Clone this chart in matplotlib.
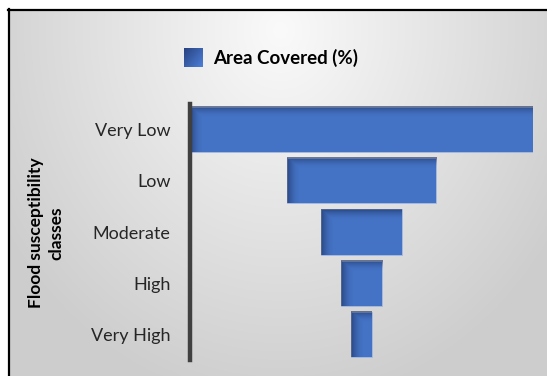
import numpy as np
import matplotlib.pyplot as plt

# Area covered by each flood susceptibility class (%)
classes = ['Very Low', 'Low', 'Moderate', 'High', 'Very High']
area_pct = [54.0, 23.5, 12.7, 6.5, 3.3]

BAR_COLOR = '#4472C4'
SHADOW = np.array([0.10, 0.18, 0.36])
W, H = 547, 376

plt.rcParams['font.family'] = ['Lato', 'DejaVu Sans']

fig = plt.figure(figsize=(W / 100, H / 100), dpi=100)
fig.patch.set_facecolor('white')

# panel background: soft radial grey gradient inside a framed box
bg = fig.add_axes([0, 0, 1, 1], zorder=0)
yy, xx = np.mgrid[0:H, 0:W]
t = np.sqrt(((xx - 280) / 330.0) ** 2 + ((yy - 30) / 380.0) ** 2)
g = (250 - 45 * np.clip(t, 0, 1)) / 255.0
img = np.dstack([g, g, g])
img[:9, :, :] = 1.0
img[:, :8, :] = 1.0
bg.imshow(img, extent=(0, W, H, 0), aspect='auto', interpolation='bilinear')
bg.plot([8, W], [9.5, 9.5], color='black', lw=1.6)
bg.plot([8.5, 8.5], [9, H], color='black', lw=1.6)
bg.set_xlim(0, W)
bg.set_ylim(H, 0)
bg.axis('off')

# funnel axes
ax_l, ax_r, ax_t, ax_b = 190, 533, 104, 360
ax = fig.add_axes([ax_l / W, 1 - ax_b / H, (ax_r - ax_l) / W, (ax_b - ax_t) / H], zorder=1)
ax.patch.set_alpha(0)

xmax = max(area_pct)
y = np.arange(len(classes))
bar_h = 0.88
lefts = [(xmax - v) / 2 for v in area_pct]
ax.barh(y, area_pct, left=lefts, height=bar_h, color=BAR_COLOR,
        edgecolor='#a9bde3', linewidth=0.6, zorder=2)

px_x = (ax_r - ax_l) / xmax
px_y = (ax_b - ax_t) / len(classes)


def inner_shadow(left, yc, width, height):
    nx = int(width * px_x) + 1
    ny = int(height * px_y) + 1
    cx = np.arange(nx)[None, :]
    cy = np.arange(ny)[:, None]
    a_top = np.clip(1 - cy / 11.0, 0, 1) ** 2
    a_left = np.clip(1 - cx / 13.0, 0, 1) ** 2
    alpha = np.maximum(a_top, a_left) * 0.6
    rgba = np.zeros((ny, nx, 4))
    rgba[..., :3] = SHADOW
    rgba[..., 3] = alpha
    ax.imshow(rgba, extent=(left, left + width, yc + height / 2, yc - height / 2),
              origin='upper', aspect='auto', interpolation='bilinear', zorder=3)


for yi, l, v in zip(y, lefts, area_pct):
    inner_shadow(l, yi, v, bar_h)

ax.set_xlim(0, xmax)
ax.set_ylim(len(classes) - 0.5, -0.5)
ax.set_yticks(y)
ax.set_yticklabels(classes, fontsize=13, color='#262626')
ax.set_xticks([])
ax.tick_params(axis='y', length=0, pad=14)
for s in ['top', 'right', 'bottom']:
    ax.spines[s].set_visible(False)
ax.spines['left'].set_color('#404040')
ax.spines['left'].set_linewidth(3.2)
ax.spines['left'].set_zorder(5)

fig.text(46 / W, 1 - 233 / H, 'Flood susceptibility\nclasses', rotation=90,
         ha='center', va='center', fontsize=12.5, fontweight='bold',
         linespacing=1.35, color='black')

# legend key with its own gradient
key = fig.add_axes([184 / W, 1 - 67 / H, 19 / W, 19 / H], zorder=2)
kx = np.linspace(0, 1, 40)[None, :]
ky = np.linspace(0, 1, 40)[:, None]
k = np.clip(0.55 * kx + 0.45 * ky, 0, 1)
c0 = np.array([0.16, 0.26, 0.50])
c1 = np.array([0.30, 0.50, 0.85])
kimg = c0 + (c1 - c0) * k[..., None]
key.imshow(kimg, aspect='auto', interpolation='bilinear')
key.axis('off')
fig.text(213 / W, 1 - 58 / H, 'Area Covered (%)', ha='left', va='center',
         fontsize=13.5, fontweight='bold', color='black')

fig.savefig('out.png', dpi=100)
